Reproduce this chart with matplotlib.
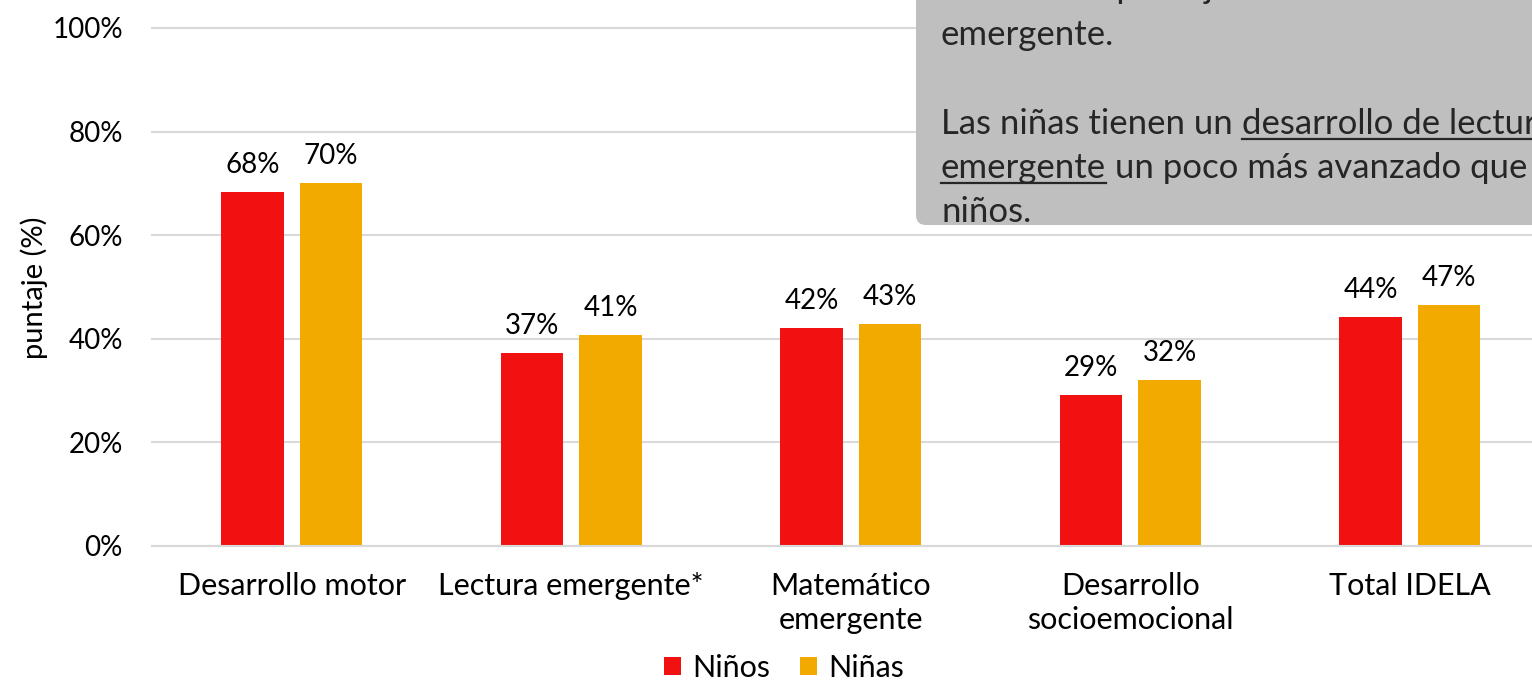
import numpy as np
import matplotlib
matplotlib.use('Agg')
import matplotlib.pyplot as plt
from matplotlib.patches import FancyBboxPatch
from matplotlib.transforms import IdentityTransform
from matplotlib.ticker import PercentFormatter

# datos
categorias = ['Desarrollo motor', 'Lectura emergente*', 'Matemático\nemergente',
              'Desarrollo\nsocioemocional', 'Total IDELA']
ninos = [0.683, 0.373, 0.421, 0.291, 0.442]
ninas = [0.701, 0.407, 0.429, 0.321, 0.466]
series = ['Niños', 'Niñas']

rojo = '#F21111'
naranja = '#F2A900'
gris_grid = '#D9D9D9'

plt.rcParams['font.family'] = ['Lato', 'DejaVu Sans']

W, H = 1532, 681
fig = plt.figure(figsize=(W / 100, H / 100), dpi=100)
ax = fig.add_axes([152 / W, 1 - 546 / H, 1397.5 / W, 518 / H])

x = np.arange(len(categorias))
ancho = 0.222
b1 = ax.bar(x - 0.1405, ninos, ancho, color=rojo, label=series[0])
b2 = ax.bar(x + 0.1405, ninas, ancho, color=naranja, label=series[1])

fmt = lambda v: f'{v:.0%}'
ax.bar_label(b1, fmt=fmt, padding=10, fontsize=20)
ax.bar_label(b2, fmt=fmt, padding=10, fontsize=20)

ax.set_xlim(-0.5, len(categorias) - 0.5)
ax.set_ylim(0, 1.0)
ax.set_yticks(np.arange(0, 1.01, 0.2))
ax.yaxis.set_major_formatter(PercentFormatter(1, decimals=0))
ax.set_xticks(x)
ax.set_xticklabels(categorias, fontsize=22, linespacing=1.25)
ax.tick_params(axis='y', length=0, pad=21, labelsize=20)
ax.tick_params(axis='x', length=0, pad=19)

ax.yaxis.grid(True, color=gris_grid, lw=1.5, clip_on=False)
ax.set_axisbelow(True)
for s in ['top', 'right', 'left']:
    ax.spines[s].set_visible(False)
ax.spines['bottom'].set_color(gris_grid)
ax.spines['bottom'].set_linewidth(1.5)

fig.text(34 / W, 1 - 288 / H, 'puntaje (%)', rotation=90, fontsize=21,
         ha='center', va='center')

fig.legend(handles=[b1, b2], labels=series, loc='center',
           bbox_to_anchor=(784 / W, 1 - 668 / H), ncol=2, frameon=False,
           fontsize=22, handlelength=0.55, handleheight=0.55,
           handletextpad=0.35, columnspacing=1.0, borderpad=0.2)

# cuadro de texto gris (recortado arriba y a la derecha)
caja = FancyBboxPatch((916, H - 225), 800, 400,
                      boxstyle='round,pad=0,rounding_size=10',
                      transform=IdentityTransform(), facecolor='#BFBFBF',
                      edgecolor='none', zorder=5)
fig.add_artist(caja)

col_txt = '#262626'
tx = 941
kw = dict(fontsize=25, color=col_txt, transform=IdentityTransform(),
          va='baseline', ha='left', zorder=6)
renderer = fig.canvas.get_renderer()


def ancho_txt(s):
    t = fig.text(0, 0, s, **kw)
    w = t.get_window_extent(renderer).width
    t.remove()
    return w


espacio = ancho_txt('a a') - ancho_txt('aa')


def subrayar(x0, x1, y):
    fig.add_artist(plt.Line2D([x0, x1], [y, y], transform=IdentityTransform(),
                              color=col_txt, lw=1.6, zorder=6))


interlinea = 44.3
y0 = 45
# linea anterior, solo se ven los trazos descendentes
fig.text(tx, H + 2, 'tienen más puntaje en lectura', **kw)
fig.text(tx, H - y0, 'emergente.', **kw)

# linea 1
yl = y0 + 2 * interlinea
p1 = 'Las niñas tienen un'
fig.text(tx, H - yl, p1, **kw)
x2 = tx + ancho_txt(p1) + espacio
p2 = 'desarrollo de lectura'
fig.text(x2, H - yl, p2, **kw)
subrayar(x2, x2 + ancho_txt(p2), H - yl - 5)

# linea 2
yl = y0 + 3 * interlinea
p3 = 'emergente'
fig.text(tx, H - yl, p3, **kw)
subrayar(tx, tx + ancho_txt(p3), H - yl - 5)
fig.text(tx + ancho_txt(p3) + espacio, H - yl, 'un poco más avanzado que los', **kw)

yl = y0 + 4 * interlinea
fig.text(tx, H - yl, 'niños.', **kw)

fig.savefig('out.png', dpi=100)
